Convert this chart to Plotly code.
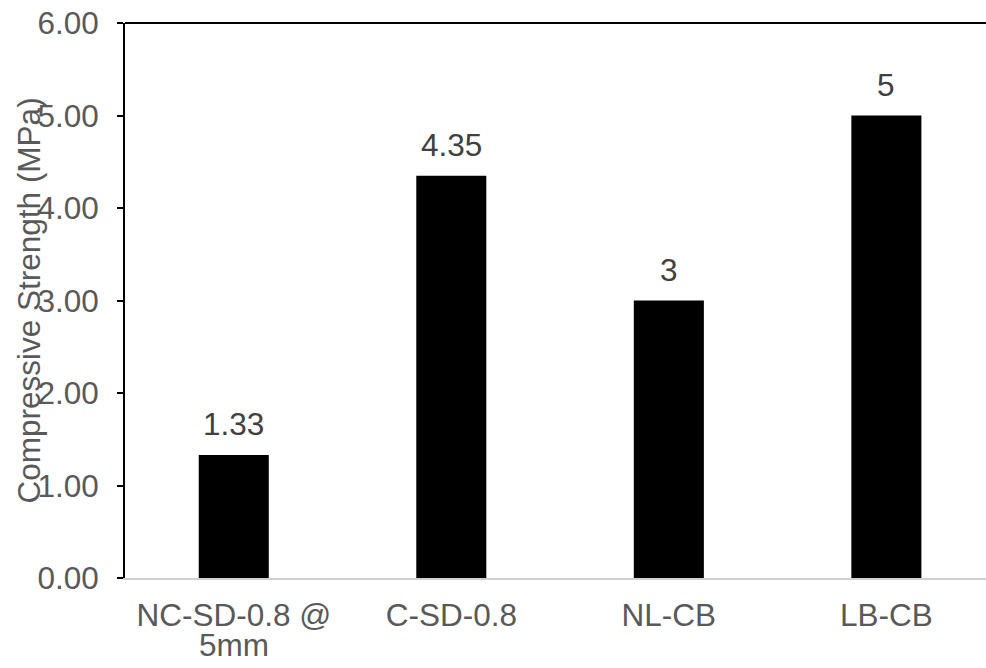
import plotly.graph_objects as go

# Compressive strength of each mix
categories = ["NC-SD-0.8 @ 5mm", "C-SD-0.8", "NL-CB", "LB-CB"]
category_lines = [["NC-SD-0.8 @", "5mm"], ["C-SD-0.8"], ["NL-CB"], ["LB-CB"]]
strength_mpa = [1.33, 4.35, 3, 5]
y_ticks = [0, 1, 2, 3, 4, 5, 6]
y_tick_labels = [f"{v:.2f}" for v in y_ticks]
value_labels = [f"{v:g}" for v in strength_mpa]

FONT = "Arial, 'Liberation Sans', sans-serif"
FSIZE = 31.5
AXIS_GREY = "#595959"
LABEL_GREY = "#404040"

fig = go.Figure()
fig.add_trace(go.Bar(
    x=categories,
    y=strength_mpa,
    width=0.322,
    marker=dict(color="black", line=dict(width=0)),
    hoverinfo="skip",
))

# value labels above each bar
for cat, val, lab in zip(categories, strength_mpa, value_labels):
    fig.add_annotation(
        x=cat, y=val, text=lab, showarrow=False,
        yanchor="bottom", yshift=11,
        font=dict(family=FONT, size=FSIZE, color=LABEL_GREY),
    )

# continuation lines of wrapped category labels (tighter line spacing)
for cat, lines in zip(categories, category_lines):
    for i, extra in enumerate(lines[1:], start=1):
        fig.add_annotation(
            x=cat, xref="x", yref="paper", y=0, text=extra, showarrow=False,
            yanchor="top", yshift=-18 - 29 * i,
            font=dict(family=FONT, size=FSIZE, color=AXIS_GREY),
        )

# rotated y-axis title sitting over the tick labels
fig.add_annotation(
    xref="paper", yref="paper", x=0, y=0.5, xshift=-97,
    text="Compressive Strength (MPa)", showarrow=False, textangle=-90,
    xanchor="center", yanchor="middle",
    font=dict(family=FONT, size=FSIZE, color=AXIS_GREY),
)

# top border of the plot area
fig.add_shape(
    type="line", xref="paper", yref="paper", x0=0, x1=1, y0=1, y1=1,
    line=dict(color="black", width=2),
)

fig.update_layout(
    width=986, height=668,
    margin=dict(l=125, r=0, t=23, b=90),
    paper_bgcolor="white", plot_bgcolor="white",
    showlegend=False,
    font=dict(family=FONT, size=FSIZE, color=AXIS_GREY),
    xaxis=dict(
        range=[-0.5, 3.458], automargin=False,
        tickvals=categories, ticktext=[lines[0] for lines in category_lines],
        showgrid=False, zeroline=False,
        showline=True, linecolor="#d0d0d0", linewidth=2,
        ticks="", ticklabelstandoff=8,
        tickfont=dict(family=FONT, size=FSIZE, color=AXIS_GREY),
    ),
    yaxis=dict(
        range=[0, 6], automargin=False,
        tickvals=y_ticks, ticktext=y_tick_labels,
        showgrid=False, zeroline=False,
        showline=True, linecolor="black", linewidth=2,
        ticks="outside", ticklen=6, tickwidth=2, tickcolor="black",
        ticklabelstandoff=12,
        tickfont=dict(family=FONT, size=FSIZE, color=AXIS_GREY),
    ),
)

fig.write_html("out.html")
